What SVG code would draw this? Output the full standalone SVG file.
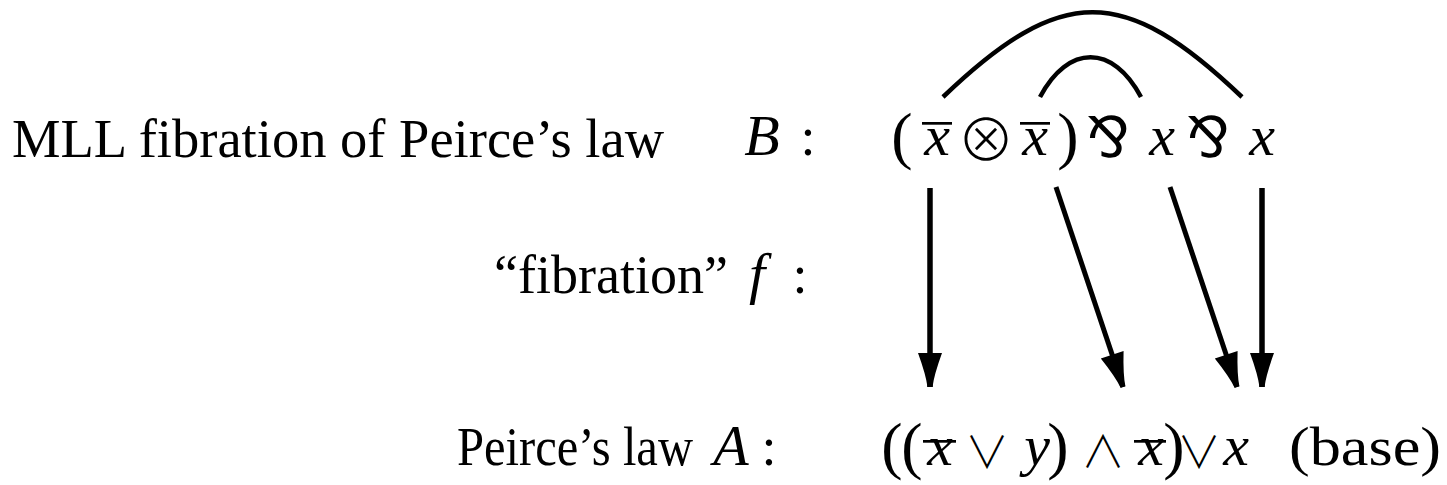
<svg xmlns="http://www.w3.org/2000/svg" width="1447" height="485" viewBox="0 0 1447 485">
<style>
.t{font-family:"Liberation Serif","Times New Roman",serif;font-size:54px;fill:#000}
.m{font-family:"Liberation Serif","Times New Roman",serif;font-style:italic;font-size:58px;fill:#000;text-anchor:middle}
.p{font-family:"Liberation Serif","Times New Roman",serif;font-size:64px;fill:#000;text-anchor:middle}
.o{font-family:"DejaVu Sans",sans-serif;fill:#000;text-anchor:middle}
.q{font-family:"Noto Sans CJK JP","DejaVu Sans",sans-serif;font-weight:300;fill:#000;text-anchor:middle}
.c{font-family:"Liberation Serif","Times New Roman",serif;font-size:54px;fill:#000;text-anchor:middle}
.ln{stroke:#000;fill:none}
</style>
<defs>
<marker id="ah" markerUnits="userSpaceOnUse" markerWidth="40" markerHeight="30" refX="0" refY="0" orient="auto" overflow="visible">
<path d="M-34,-12 L-34,12 Q-12,4 0,2.5 L0,-2.5 Q-12,-4 -34,-12 Z" fill="#000"/>
</marker>
</defs>
<g id="label-B">
<text class="t" x="12" y="157" textLength="652" lengthAdjust="spacingAndGlyphs">MLL fibration of Peirce’s law</text>
<text class="m" x="762" y="155">B</text>
<text class="c" x="808" y="155">:</text>
</g>
<g id="label-f">
<text class="t" x="728" y="293" text-anchor="end">“fibration”</text>
<text class="m" x="757" y="293">f</text>
<text class="c" x="800" y="293">:</text>
</g>
<g id="label-A">
<text class="t" x="457" y="465" font-size="51" textLength="236" lengthAdjust="spacingAndGlyphs">Peirce’s law</text>
<text class="m" x="731" y="465">A</text>
<text class="c" x="769" y="465">:</text>
</g>
<g id="formula-B">
<text class="p" x="902" y="157">(</text>
<text class="m" x="937" y="155">x</text>
<rect x="922" y="122" width="30" height="2.7"/>
<text class="q" x="986" y="161" font-size="58">⊗</text>
<text class="m" x="1035" y="155">x</text>
<rect x="1020" y="122" width="30" height="2.7"/>
<text class="p" x="1068" y="157">)</text>
<text class="o" x="1108" y="157" font-size="56">⅋</text>
<text class="m" x="1162" y="155">x</text>
<text class="o" x="1208" y="157" font-size="56">⅋</text>
<text class="m" x="1262" y="155">x</text>
</g>
<g id="formula-A">
<text class="p" x="892" y="467">(</text>
<text class="p" x="912" y="467">(</text>
<text class="m" x="940" y="465">x</text>
<rect x="923" y="440" width="33" height="2.7"/>
<text class="q" x="987" y="468" font-size="44">∨</text>
<text class="m" x="1037" y="465">y</text>
<text class="p" x="1058" y="467">)</text>
<text class="q" x="1103" y="468" font-size="44">∧</text>
<text class="m" x="1151" y="465">x</text>
<rect x="1134" y="440" width="32" height="2.7"/>
<text class="p" x="1174" y="467">)</text>
<text class="q" x="1199" y="468" font-size="44">∨</text>
<text class="m" x="1236" y="465">x</text>
<text class="t" x="1289" y="465" font-size="55" textLength="152" lengthAdjust="spacingAndGlyphs">(base)</text>
</g>
<g id="connectors">
<path class="ln" stroke-width="4.5" d="M943,97 C1061,-16 1124,-16 1242,97"/>
<path class="ln" stroke-width="4.5" d="M1040,97 C1068,44 1113,44 1141,97"/>
<line class="ln" stroke-width="5.5" x1="930" y1="188" x2="930" y2="387" marker-end="url(#ah)"/>
<line class="ln" stroke-width="5" x1="1056" y1="187" x2="1123" y2="387" marker-end="url(#ah)"/>
<line class="ln" stroke-width="5" x1="1170" y1="187" x2="1237" y2="387" marker-end="url(#ah)"/>
<line class="ln" stroke-width="5.5" x1="1262" y1="188" x2="1262" y2="387" marker-end="url(#ah)"/>
</g>
</svg>
